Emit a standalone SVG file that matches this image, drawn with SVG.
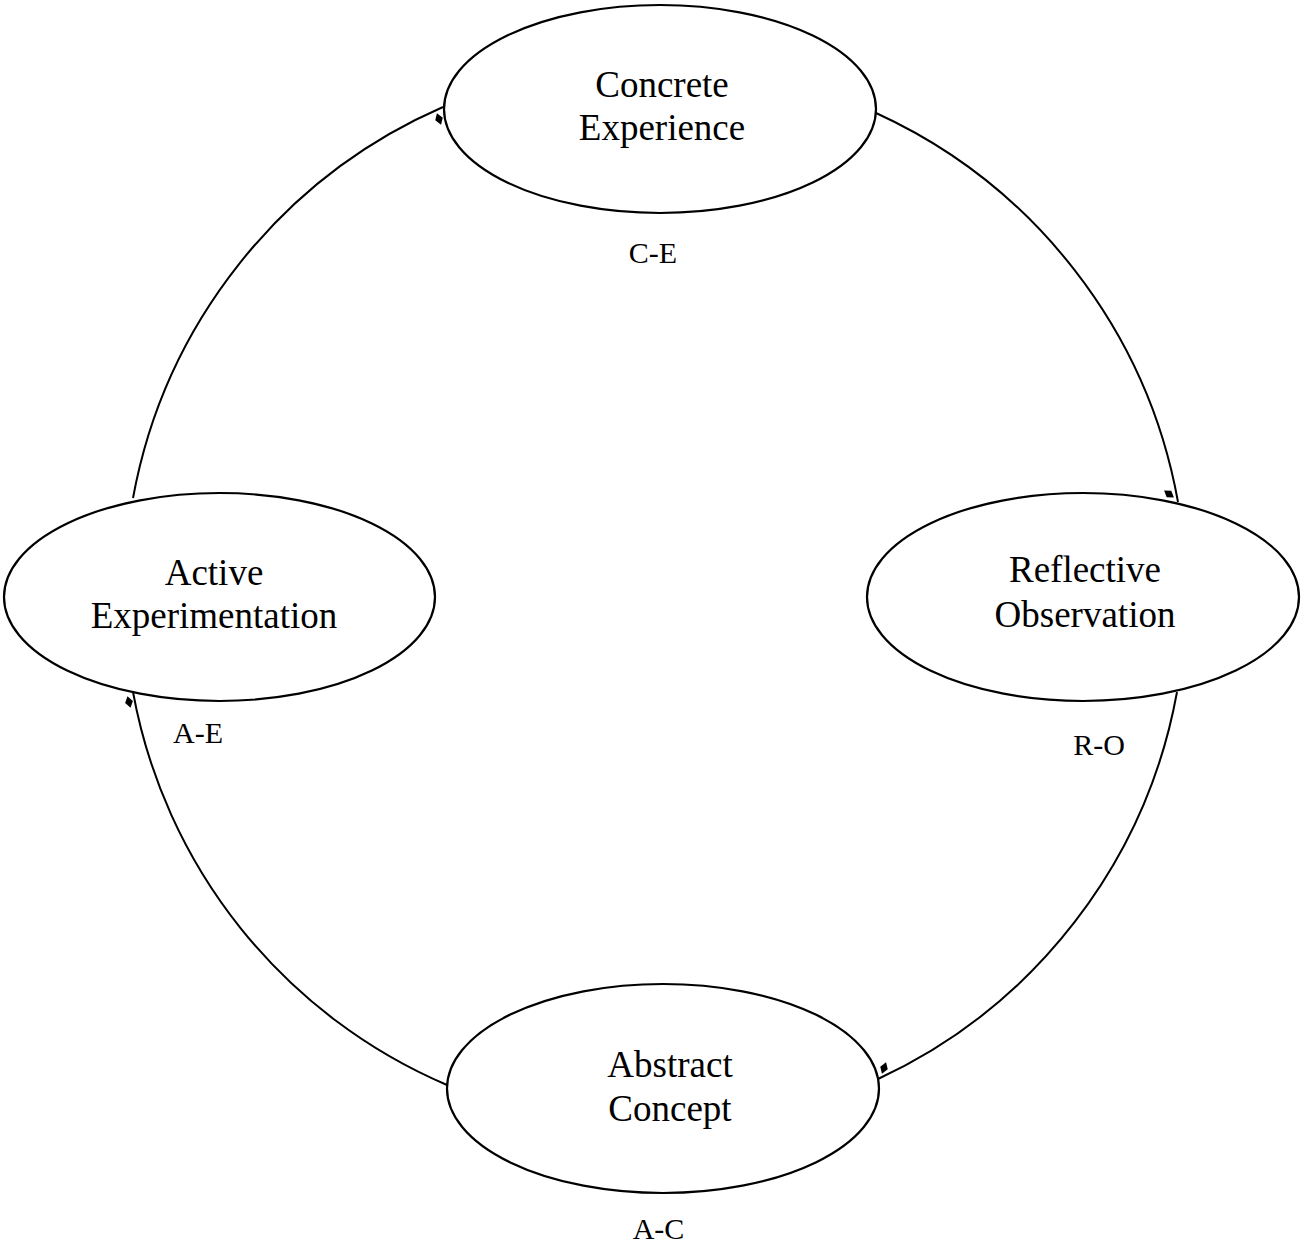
<svg xmlns="http://www.w3.org/2000/svg" width="1301" height="1247" viewBox="0 0 1301 1247">
<style>
.node ellipse{fill:#fff;stroke:#000;stroke-width:2.2}
.node text{font-family:"Liberation Serif","Times New Roman",serif;font-size:37px;fill:#000;text-anchor:middle}
.lbl{font-family:"Liberation Serif","Times New Roman",serif;font-size:30px;fill:#000;text-anchor:middle}
.conn{fill:none;stroke:#000;stroke-width:2}
.dia{fill:#000}
</style>
<defs>
<path id="diamond" d="M0,-6 L4,0 L0,6 L-4,0 Z"/>
</defs>
<rect width="1301" height="1247" fill="#fff"/>
<g id="connectors">
<path class="conn" d="M876,113 A531,531 0 0 1 1178,502"/>
<path class="conn" d="M1177,692 A531,531 0 0 1 878,1079"/>
<path class="conn" d="M447,1085 A531,531 0 0 1 133,692"/>
<path class="conn" d="M133,498 A531,531 0 0 1 443,107"/>
<use href="#diamond" class="dia" transform="translate(439,119) rotate(-20)"/>
<use href="#diamond" class="dia" transform="translate(1169,494) rotate(-55)"/>
<use href="#diamond" class="dia" transform="translate(884,1068) rotate(20)"/>
<use href="#diamond" class="dia" transform="translate(129,702) rotate(-15)"/>
</g>
<g id="concrete-experience" class="node">
<ellipse cx="660" cy="109" rx="216" ry="104"/>
<text x="662" y="97">Concrete</text>
<text x="662" y="140">Experience</text>
</g>
<g id="reflective-observation" class="node">
<ellipse cx="1083" cy="597" rx="216" ry="104"/>
<text x="1085" y="582">Reflective</text>
<text x="1085" y="627">Observation</text>
</g>
<g id="abstract-concept" class="node">
<ellipse cx="663" cy="1088.5" rx="216" ry="104.5"/>
<text x="670" y="1077">Abstract</text>
<text x="670" y="1121">Concept</text>
</g>
<g id="active-experimentation" class="node">
<ellipse cx="219.5" cy="597" rx="215.5" ry="104"/>
<text x="214" y="585">Active</text>
<text x="214" y="628">Experimentation</text>
</g>
<g id="labels">
<text class="lbl" x="653" y="263">C-E</text>
<text class="lbl" x="1099" y="755">R-O</text>
<text class="lbl" x="658.5" y="1239">A-C</text>
<text class="lbl" x="198" y="743">A-E</text>
</g>
</svg>
